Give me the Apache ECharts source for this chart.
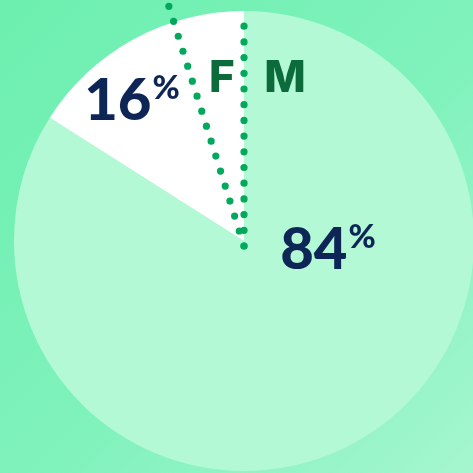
<!DOCTYPE html>
<html>
  <head>
    <meta charset="utf-8">
    <title>ECharts</title>
    <script src="https://cdn.jsdelivr.net/npm/echarts@6/dist/echarts.min.js"></script>
  </head>
  <body style="margin:0;">
    <div id="main" style="width:473px;height:473px;"></div>
    <script type="text/javascript">
      // data
      var categories = ['M', 'F'];
      var values = [84, 16];
      var sliceColors = ['#b3f9d5', '#ffffff'];
      // label spots (px) for value and name labels
      var valueSpots = [[328, 250], [132, 101]];
      var nameSpots = [[285, 79], [222, 79]];

      var center = [244, 241];
      var radius = 230;
      // extra dotted guide, degrees left of 12 o'clock
      var guideAngle = 17.4;

      var myChart = echarts.init(document.getElementById('main'));

      // dotted guide made of small circles
      function dotted(angleDeg, len) {
        var a = angleDeg * Math.PI / 180;
        var x0 = center[0], y0 = center[1] + 5;
        var step = 15.7, out = [];
        for (var d = 0; d <= len; d += step) {
          out.push({
            type: 'circle',
            silent: true,
            z: 10,
            shape: { cx: x0 - Math.sin(a) * d, cy: y0 - Math.cos(a) * d, r: 3.6 },
            style: { fill: '#02a95c' }
          });
        }
        return out;
      }

      var numFont = 'Lato, Inter, sans-serif';
      var fontFam = 'Inter, "Noto Sans", sans-serif';

      myChart.setOption({
        backgroundColor: {
          type: 'linear', x: 0, y: 0, x2: 1, y2: 1,
          colorStops: [
            { offset: 0, color: '#6cefaf' },
            { offset: 0.55, color: '#80f2bc' },
            { offset: 1, color: '#a5f6cf' }
          ]
        },
        animation: false,
        series: [{
          type: 'pie',
          center: center,
          radius: radius,
          startAngle: 90,
          clockwise: true,
          silent: true,
          data: categories.map(function (c, i) {
            return { name: c, value: values[i], itemStyle: { color: sliceColors[i] } };
          }),
          label: {
            show: true,
            position: 'inside',
            formatter: function (p) { return '{v|' + p.value + '}{p|%}'; },
            rich: {
              v: { fontFamily: numFont, fontWeight: 900, fontSize: 58, color: '#0d2656', verticalAlign: 'bottom', lineHeight: 58 },
              p: { fontFamily: numFont, fontWeight: 900, fontSize: 33, color: '#0d2656', verticalAlign: 'top', lineHeight: 58, padding: [0, 0, 22, 1] }
            }
          },
          labelLine: { show: false },
          labelLayout: function (p) {
            var s = valueSpots[p.dataIndex];
            return { x: s[0], y: s[1], align: 'center', verticalAlign: 'middle' };
          }
        }, {
          type: 'pie',
          center: center,
          radius: radius,
          startAngle: 90,
          silent: true,
          z: 3,
          data: categories.map(function (c, i) {
            return { name: c, value: values[i], itemStyle: { color: 'rgba(0,0,0,0)' } };
          }),
          label: {
            show: true,
            position: 'inside',
            formatter: '{b}',
            fontFamily: fontFam,
            fontWeight: 800,
            fontSize: 44,
            color: '#0b6b3b'
          },
          labelLine: { show: false },
          labelLayout: function (p) {
            var s = nameSpots[p.dataIndex];
            return { x: s[0], y: s[1], align: 'center', verticalAlign: 'middle' };
          }
        }],
        graphic: dotted(0, 234).concat(dotted(guideAngle, 252))
      });
    </script>
  </body>
</html>
